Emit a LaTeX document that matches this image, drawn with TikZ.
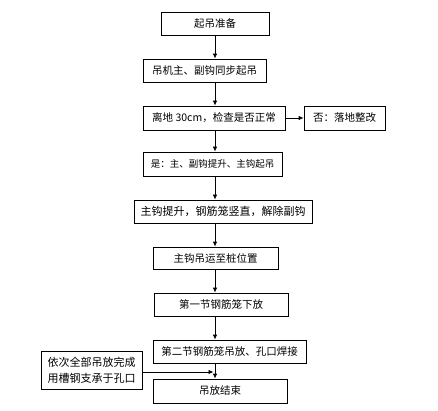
\documentclass[tikz,border=0pt]{standalone}
\usepackage{fontspec}
\setmainfont{Noto Sans CJK SC}
\usetikzlibrary{arrows.meta}
\begin{document}
\begin{tikzpicture}[x=1pt,y=-1pt,
  stepbox/.style={draw=black,line width=0.8pt,inner sep=0pt,font=\fontsize{10.5}{13}\selectfont,align=center},
  flow/.style={line width=0.8pt,-{Latex[length=5pt,width=4.5pt]}}]
\useasboundingbox (0,0) rectangle (438,411);
\coordinate (axis) at (215,0);
\node[stepbox,minimum width=108pt,minimum height=23pt] (b1) at (215,23.5) {起吊准备};
\node[stepbox,minimum width=123pt,minimum height=23pt] (b2) at (204.5,70.5) {吊机主、副钩同步起吊};
\node[stepbox,minimum width=142pt,minimum height=24pt] (b3) at (214,118) {离地 30cm，检查是否正常};
\node[stepbox,minimum width=81pt,minimum height=24pt] (b4) at (344.5,118) {否：落地整改};
\node[stepbox,minimum width=139pt,minimum height=24pt,font=\fontsize{9.5}{12}\selectfont] (b5) at (212.5,164) {是：主、副钩提升、主钩起吊};
\node[stepbox,minimum width=178pt,minimum height=23pt,font=\fontsize{11}{13}\selectfont] (b6) at (223,211.5) {主钩提升，钢筋笼竖直，解除副钩};
\node[stepbox,minimum width=125pt,minimum height=22pt] (b7) at (215.5,258) {主钩吊运至桩位置};
\node[stepbox,minimum width=134pt,minimum height=23pt] (b8) at (221,304.5) {第一节钢筋笼下放};
\node[stepbox,minimum width=153pt,minimum height=23pt] (b9) at (229.5,351.5) {第二节钢筋笼吊放、孔口焊接};
\node[stepbox,minimum width=134pt,minimum height=24pt] (b10) at (220,391) {吊放结束};
\node[stepbox,minimum width=101pt,minimum height=38pt,font=\fontsize{11}{16}\selectfont] (b11) at (91.5,370) {依次全部吊放完成\\用槽钢支承于孔口};
\draw[flow] (b1.south -| axis) -- (b2.north -| axis);
\draw[flow] (b2.south -| axis) -- (b3.north -| axis);
\draw[flow] (b3.east) -- (b4.west);
\draw[flow] (b3.south -| axis) -- (b5.north -| axis);
\draw[flow] (b5.south -| axis) -- (b6.north -| axis);
\draw[flow] (b6.south -| axis) -- (b7.north -| axis);
\draw[flow] (b7.south -| axis) -- (b8.north -| axis);
\draw[flow] (b8.south -| axis) -- (b9.north -| axis);
\draw[flow] (b9.south -| axis) -- (b10.north -| axis);
\draw[flow,shorten >=1.5pt] ([yshift=-2pt]b11.east) -- ([yshift=-2pt]b11.east -| axis);
\end{tikzpicture}
\end{document}
